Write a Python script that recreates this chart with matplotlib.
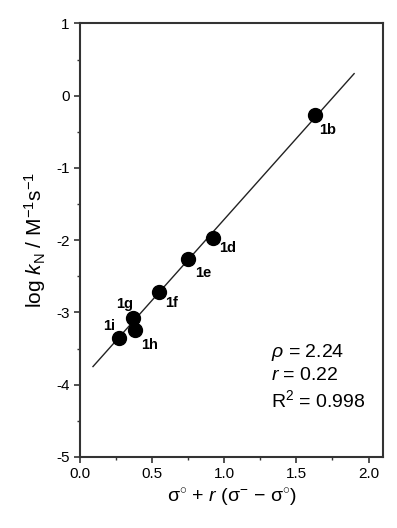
import numpy as np
import matplotlib.pyplot as plt
from matplotlib.ticker import MultipleLocator

plt.rcParams['font.family'] = ['Liberation Sans', 'DejaVu Sans']
plt.rcParams['mathtext.fontset'] = 'custom'
plt.rcParams['mathtext.rm'] = 'Liberation Sans'
plt.rcParams['mathtext.it'] = 'Liberation Sans:italic'
plt.rcParams['mathtext.bf'] = 'Liberation Sans:bold'
plt.rcParams['axes.unicode_minus'] = False

# data
labels = ['1b', '1d', '1e', '1f', '1g', '1h', '1i']
sigma = [1.63, 0.92, 0.75, 0.55, 0.37, 0.38, 0.27]
log_kn = [-0.27, -1.97, -2.26, -2.71, -3.07, -3.24, -3.35]
label_offsets = [(12, -15), (15, -10), (15, -14), (12, -11), (-9, 14), (15, -15), (-10, 12)]

rho = 2.24
intercept = -3.95
fit_x = np.array([0.09, 1.90])

fig = plt.figure(figsize=(3.97, 5.28), dpi=100)
ax = fig.add_axes([0.2015, 0.1345, 0.7632, 0.821])

ax.plot(fit_x, rho * fit_x + intercept, color='#222222', lw=1.0)
ax.plot(sigma, log_kn, 'o', color='black', ms=10)
for lab, x, y, off in zip(labels, sigma, log_kn, label_offsets):
    ax.annotate(lab, (x, y), xytext=(off[0] * 0.72, off[1] * 0.72), textcoords='offset points',
                ha='center', va='center', fontsize=10.5, fontweight='bold')

ax.text(0.63, 0.185, r'$\rho$ = 2.24' + '\n' + r'$\mathit{r}$ = 0.22' + '\n' + r'R$^2$ = 0.998',
        transform=ax.transAxes, fontsize=14, va='center', ha='left', linespacing=1.3)

ax.set_xlim(0, 2.1)
ax.set_ylim(-5, 1)
ax.xaxis.set_major_locator(MultipleLocator(0.5))
ax.xaxis.set_minor_locator(MultipleLocator(0.25))
ax.yaxis.set_major_locator(MultipleLocator(1))
ax.yaxis.set_minor_locator(MultipleLocator(0.5))
ax.xaxis.set_major_formatter('{x:.1f}')
ax.yaxis.set_major_formatter('{x:.0f}')
ax.tick_params(which='major', direction='out', length=4, width=1.2, labelsize=11, colors='#333333', labelcolor='black')
ax.tick_params(which='minor', direction='out', length=2.5, width=1.0, colors='#333333')
for s in ax.spines.values():
    s.set_linewidth(1.5)
    s.set_color('#333333')

ax.set_xlabel(u'σ$^{\\circ}$ + $\\mathit{r}$ (σ$^{-}$ \u2212 σ$^{\\circ}$)', fontsize=14, labelpad=4)
ax.set_ylabel(r'log $\mathit{k}_{\rm N}$ / M$^{-1}$s$^{-1}$', fontsize=15, labelpad=6)

fig.savefig('out.png', dpi=100)
